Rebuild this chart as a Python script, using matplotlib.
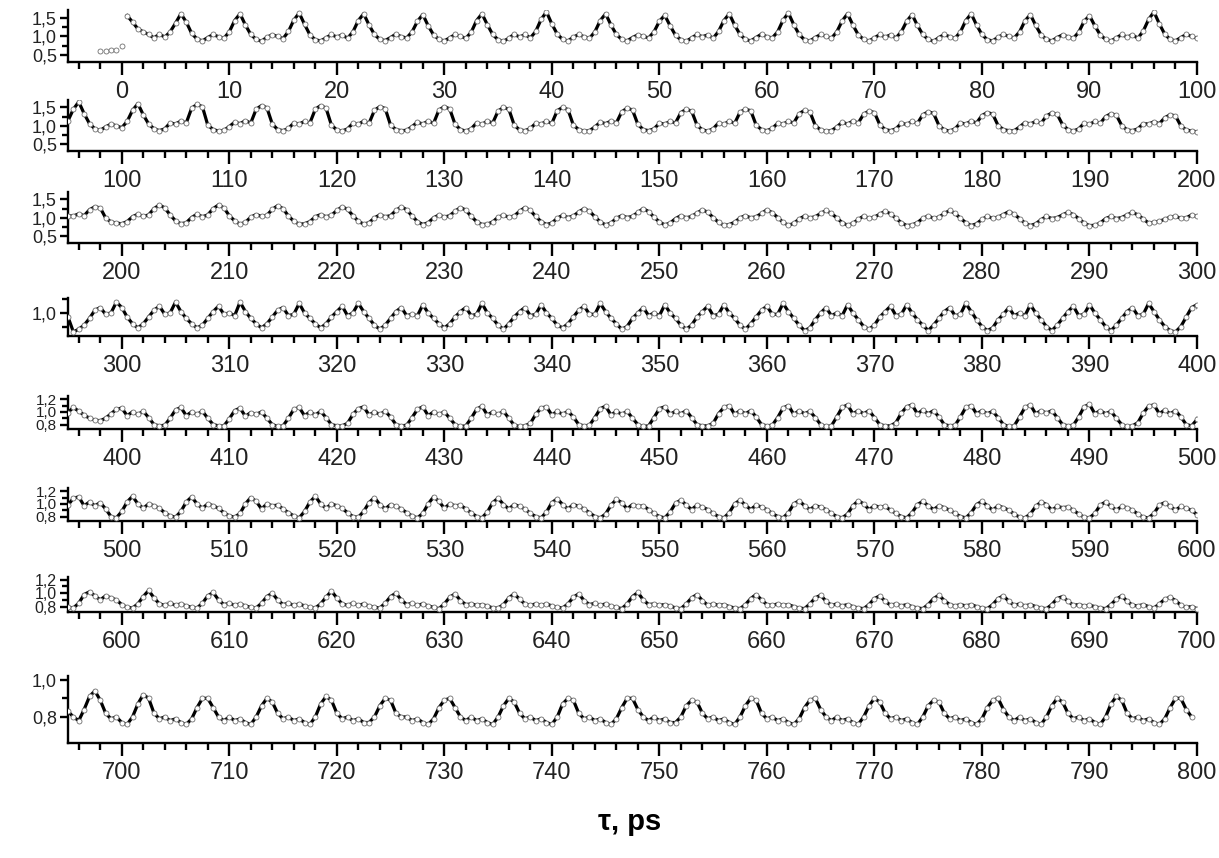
import numpy as np
import matplotlib
matplotlib.use("Agg")
import matplotlib.pyplot as plt
from matplotlib.ticker import MultipleLocator, FixedLocator, FuncFormatter

plt.rcParams['font.family'] = ['Liberation Sans', 'DejaVu Sans']

# ---------------- data (sampled every 0.5 ps) ----------------
dt = 0.5
t_pre = [-2.0, -1.5, -1.0, -0.5]
y_pre = [0.62, 0.62, 0.63, 0.65]

# 0 ... 99.5 ps
y_000 = [0.75, 1.55, 1.38, 1.20, 1.12, 1.05, 0.96, 1.06, 0.98, 1.12, 1.35, 1.60, 1.38, 1.08, 0.93,
         0.88, 0.97, 1.05, 0.99, 0.95, 1.12, 1.42, 1.60, 1.30, 1.05, 0.92,
         0.87, 0.98, 1.04, 1.00, 0.94, 1.13, 1.43, 1.62, 1.32, 1.04, 0.91,
         0.88, 0.96, 1.05, 0.98, 1.04, 0.95, 1.12, 1.42, 1.60, 1.30, 1.05, 0.92,
         0.89, 0.97, 1.06, 0.99, 0.96, 1.12, 1.40, 1.58, 1.28, 1.04, 0.92,
         0.88, 0.96, 1.05, 1.00, 0.95, 1.11, 1.42, 1.60, 1.31, 1.05, 0.91,
         0.87, 0.95, 1.06, 0.98, 1.05, 0.96, 1.13, 1.45, 1.65, 1.33, 1.06, 0.92,
         0.88, 0.98, 1.05, 0.99, 0.95, 1.12, 1.42, 1.60, 1.30, 1.05, 0.92,
         0.88, 0.97, 1.04, 1.00, 0.96, 1.12, 1.40, 1.56, 1.28, 1.03, 0.91,
         0.87, 0.96, 1.05, 0.99, 1.04, 0.95, 1.13, 1.42, 1.60, 1.30, 1.05, 0.92,
         0.88, 0.97, 1.06, 0.99, 0.96, 1.12, 1.43, 1.62, 1.31, 1.05, 0.91,
         0.88, 0.97, 1.05, 1.00, 0.95, 1.12, 1.41, 1.60, 1.30, 1.04, 0.92,
         0.88, 0.96, 1.05, 0.98, 1.04, 0.96, 1.12, 1.40, 1.58, 1.29, 1.05, 0.92,
         0.87, 0.97, 1.05, 0.99, 0.95, 1.12, 1.42, 1.60, 1.30, 1.05, 0.91,
         0.88, 0.98, 1.05, 1.00, 0.96, 1.12, 1.41, 1.58, 1.29, 1.04, 0.92,
         0.88, 0.97, 1.04, 0.99, 0.95, 1.11, 1.40, 1.55, 1.28, 1.04, 0.92,
         0.88, 0.96, 1.05, 0.98, 1.04, 0.95, 1.14, 1.45, 1.65, 1.33, 1.06, 0.92,
         0.88, 0.97, 1.05, 1.00]

# 100 ... 199.5 ps
y_100 = [0.95, 1.12, 1.42, 1.60, 1.30, 1.05, 0.92,
         0.87, 0.92, 1.08, 1.05, 1.13, 1.08, 1.48, 1.58, 1.52, 1.02, 0.90,
         0.86, 0.88, 0.98, 1.10, 1.06, 1.14, 1.08, 1.45, 1.55, 1.49, 1.05, 0.90,
         0.87, 0.93, 1.08, 1.05, 1.12, 1.08, 1.45, 1.55, 1.48, 1.02, 0.89,
         0.86, 0.92, 1.07, 1.04, 1.13, 1.07, 1.42, 1.52, 1.47, 1.02, 0.90,
         0.87, 0.88, 0.98, 1.10, 1.05, 1.13, 1.07, 1.43, 1.52, 1.46, 1.04, 0.90,
         0.86, 0.92, 1.08, 1.04, 1.13, 1.08, 1.40, 1.50, 1.45, 1.02, 0.89,
         0.87, 0.93, 1.07, 1.05, 1.12, 1.07, 1.41, 1.50, 1.44, 1.02, 0.90,
         0.86, 0.87, 0.97, 1.10, 1.06, 1.13, 1.08, 1.38, 1.48, 1.43, 1.04, 0.90,
         0.87, 0.92, 1.07, 1.05, 1.12, 1.08, 1.36, 1.45, 1.40, 1.02, 0.89,
         0.86, 0.92, 1.08, 1.04, 1.13, 1.07, 1.37, 1.45, 1.41, 1.02, 0.90,
         0.87, 0.93, 1.07, 1.05, 1.12, 1.08, 1.33, 1.42, 1.38, 1.01, 0.89,
         0.86, 0.87, 0.97, 1.10, 1.05, 1.13, 1.08, 1.32, 1.40, 1.36, 1.03, 0.90,
         0.87, 0.92, 1.07, 1.04, 1.12, 1.07, 1.30, 1.38, 1.34, 1.01, 0.89,
         0.86, 0.92, 1.08, 1.05, 1.13, 1.08, 1.28, 1.36, 1.32, 1.01, 0.90,
         0.87, 0.87, 0.97, 1.09, 1.05, 1.12, 1.07, 1.27, 1.35, 1.31, 1.03, 0.90,
         0.86, 0.92, 1.07, 1.04, 1.12, 1.07, 1.25, 1.33, 1.29, 1.01, 0.89,
         0.87, 0.92, 1.06, 1.05, 1.11, 1.06, 1.22, 1.30, 1.27, 1.00, 0.89,
         0.86]

# 200 ... 299.5 ps
y_200 = [0.84, 0.90, 1.03, 1.10, 1.04, 1.08, 1.25, 1.35, 1.27, 1.08, 0.92,
         0.84, 0.87, 1.01, 1.10, 1.03, 1.08, 1.25, 1.35, 1.27, 1.06, 0.92,
         0.83, 0.88, 1.02, 1.09, 1.04, 1.07, 1.23, 1.33, 1.25, 1.05, 0.91,
         0.83, 0.84, 0.90, 1.03, 1.09, 1.03, 1.07, 1.20, 1.30, 1.23, 1.06, 0.91,
         0.83, 0.87, 1.00, 1.08, 1.03, 1.06, 1.20, 1.30, 1.22, 1.05, 0.90,
         0.82, 0.87, 1.00, 1.08, 1.02, 1.06, 1.18, 1.28, 1.21, 1.04, 0.90,
         0.82, 0.83, 0.89, 1.02, 1.07, 1.02, 1.05, 1.18, 1.28, 1.20, 1.04, 0.90,
         0.82, 0.86, 0.99, 1.07, 1.01, 1.05, 1.16, 1.25, 1.18, 1.03, 0.89,
         0.81, 0.86, 0.99, 1.06, 1.01, 1.04, 1.15, 1.25, 1.17, 1.02, 0.89,
         0.81, 0.86, 0.98, 1.06, 1.00, 1.04, 1.13, 1.22, 1.15, 1.01, 0.88,
         0.80, 0.82, 0.88, 1.00, 1.06, 1.00, 1.03, 1.12, 1.22, 1.14, 1.01, 0.88,
         0.80, 0.85, 0.97, 1.05, 1.00, 1.03, 1.12, 1.20, 1.12, 1.00, 0.87,
         0.80, 0.85, 0.96, 1.05, 0.99, 1.02, 1.10, 1.18, 1.11, 0.99, 0.87,
         0.79, 0.81, 0.87, 0.99, 1.05, 0.99, 1.02, 1.12, 1.20, 1.12, 0.99, 0.87,
         0.79, 0.84, 0.96, 1.04, 0.99, 1.02, 1.09, 1.17, 1.10, 0.98, 0.86,
         0.79, 0.84, 0.95, 1.04, 0.98, 1.01, 1.08, 1.15, 1.09, 0.98, 0.86,
         0.79, 0.80, 0.86, 0.98, 1.04, 0.98, 1.01, 1.08, 1.15, 1.08, 0.97, 0.86,
         0.88, 0.91, 0.96, 1.02, 1.04, 0.99, 1.00, 1.08]

# 300 ... 399.5 ps
y_300 = [1.04, 0.97, 0.92,
         0.89, 0.92, 0.97, 1.02, 1.05, 0.99, 1.00, 1.08, 1.01, 0.96, 0.92,
         0.89, 0.91, 0.96, 1.01, 1.05, 0.99, 1.00, 0.98, 1.08, 1.01, 0.96, 0.92,
         0.89, 0.92, 0.97, 1.02, 1.04, 0.98, 0.99, 1.07, 1.00, 0.96, 0.92,
         0.89, 0.92, 0.97, 1.01, 1.05, 0.98, 1.00, 1.07, 1.01, 0.96, 0.91,
         0.88, 0.91, 0.96, 1.01, 1.04, 0.98, 0.99, 0.98, 1.06, 1.00, 0.96, 0.92,
         0.89, 0.92, 0.97, 1.01, 1.04, 0.98, 0.99, 1.07, 1.00, 0.96, 0.91,
         0.88, 0.92, 0.97, 1.01, 1.04, 0.98, 0.99, 1.06, 1.00, 0.96, 0.91,
         0.89, 0.92, 0.97, 1.02, 1.05, 0.99, 0.99, 1.07, 1.01, 0.96, 0.92,
         0.88, 0.90, 0.96, 1.00, 1.04, 0.98, 1.00, 0.98, 1.06, 1.00, 0.96, 0.91,
         0.88, 0.91, 0.97, 1.01, 1.05, 0.98, 0.99, 1.06, 1.00, 0.96, 0.91,
         0.88, 0.92, 0.97, 1.02, 1.05, 0.99, 0.99, 1.07, 1.01, 0.96, 0.91,
         0.87, 0.89, 0.95, 1.00, 1.04, 0.98, 1.00, 0.98, 1.06, 1.00, 0.95, 0.90,
         0.88, 0.91, 0.97, 1.01, 1.05, 0.98, 0.99, 1.06, 1.00, 0.95, 0.91,
         0.87, 0.91, 0.96, 1.01, 1.04, 0.98, 0.99, 1.07, 1.01, 0.95, 0.90,
         0.87, 0.89, 0.95, 0.99, 1.04, 0.98, 1.00, 0.98, 1.06, 1.00, 0.95, 0.90,
         0.87, 0.91, 0.96, 1.01, 1.05, 0.98, 0.99, 1.06, 1.00, 0.95, 0.90,
         0.87, 0.91, 0.96, 1.01, 1.04, 0.98, 0.99, 1.07, 1.01, 0.95, 0.90,
         0.87, 0.86, 0.90, 0.97, 1.04]

# 400 ... 499.5 ps
y_400 = [1.06, 0.94, 1.00, 0.96, 1.01, 0.91, 0.80,
         0.78, 0.79, 0.90, 1.03, 1.07, 0.94, 1.00, 0.96, 1.01, 0.90, 0.80,
         0.78, 0.78, 0.89, 1.02, 1.06, 0.93, 0.99, 0.96, 1.00, 0.90, 0.80,
         0.77, 0.78, 0.90, 1.04, 1.07, 0.94, 1.00, 0.95, 1.01, 0.91, 0.80,
         0.78, 0.78, 0.82, 0.96, 1.05, 1.08, 0.95, 1.00, 0.96, 1.01, 0.92, 0.80,
         0.78, 0.79, 0.91, 1.04, 1.08, 0.94, 1.00, 0.96, 1.00, 0.90, 0.80,
         0.77, 0.78, 0.90, 1.04, 1.09, 0.95, 1.00, 0.96, 1.01, 0.90, 0.79,
         0.77, 0.78, 0.82, 0.96, 1.06, 1.08, 0.95, 1.01, 0.96, 1.01, 0.92, 0.80,
         0.78, 0.79, 0.91, 1.05, 1.09, 0.95, 1.01, 0.96, 1.01, 0.90, 0.80,
         0.77, 0.78, 0.91, 1.05, 1.08, 0.96, 1.01, 0.97, 1.02, 0.91, 0.80,
         0.78, 0.78, 0.82, 0.97, 1.07, 1.10, 0.96, 1.02, 0.97, 1.02, 0.92, 0.80,
         0.78, 0.79, 0.91, 1.06, 1.10, 0.96, 1.02, 0.97, 1.01, 0.91, 0.80,
         0.77, 0.78, 0.92, 1.07, 1.11, 0.97, 1.02, 0.97, 1.02, 0.91, 0.80,
         0.78, 0.78, 0.83, 0.98, 1.08, 1.11, 0.97, 1.03, 0.97, 1.02, 0.92, 0.80,
         0.78, 0.79, 0.92, 1.07, 1.10, 0.97, 1.02, 0.97, 1.01, 0.91, 0.80,
         0.77, 0.78, 0.92, 1.07, 1.11, 0.97, 1.02, 0.98, 1.02, 0.91, 0.80,
         0.78, 0.79, 0.92, 1.08, 1.12, 0.97, 1.02, 0.97, 1.01, 0.90, 0.80,
         0.77, 0.78, 0.83, 0.98, 1.09, 1.11, 0.97, 1.03, 0.97, 1.02, 0.92, 0.80,
         0.78]

# 500 ... 599.5 ps
y_500 = [0.88, 1.03, 1.12, 1.00, 0.93, 1.00, 0.97, 0.93, 0.86, 0.81,
         0.79, 0.88, 1.03, 1.11, 1.00, 0.93, 1.00, 0.97, 0.93, 0.86, 0.81,
         0.79, 0.85, 1.00, 1.10, 1.04, 0.92, 1.00, 0.97, 0.98, 0.92, 0.86, 0.81,
         0.78, 0.88, 1.03, 1.12, 1.00, 0.93, 1.00, 0.97, 0.93, 0.86, 0.80,
         0.79, 0.88, 1.02, 1.10, 0.99, 0.92, 0.99, 0.96, 0.92, 0.86, 0.81,
         0.78, 0.85, 1.00, 1.11, 1.04, 0.93, 1.00, 0.97, 0.98, 0.92, 0.86, 0.80,
         0.78, 0.87, 1.02, 1.09, 0.99, 0.92, 0.99, 0.96, 0.92, 0.85, 0.80,
         0.78, 0.87, 1.02, 1.08, 0.99, 0.92, 0.99, 0.96, 0.92, 0.86, 0.80,
         0.78, 0.84, 0.98, 1.07, 1.02, 0.92, 0.99, 0.96, 0.97, 0.91, 0.85, 0.80,
         0.78, 0.87, 1.01, 1.06, 0.98, 0.91, 0.98, 0.95, 0.91, 0.85, 0.80,
         0.78, 0.86, 1.00, 1.06, 0.98, 0.91, 0.98, 0.95, 0.91, 0.85, 0.80,
         0.78, 0.86, 1.00, 1.05, 0.97, 0.91, 0.97, 0.95, 0.91, 0.85, 0.80,
         0.78, 0.84, 0.97, 1.05, 1.00, 0.91, 0.97, 0.95, 0.96, 0.90, 0.85, 0.80,
         0.78, 0.86, 0.99, 1.04, 0.97, 0.91, 0.97, 0.94, 0.90, 0.85, 0.80,
         0.78, 0.86, 0.99, 1.04, 0.97, 0.90, 0.97, 0.94, 0.90, 0.84, 0.79,
         0.78, 0.84, 0.96, 1.03, 0.99, 0.90, 0.96, 0.94, 0.95, 0.90, 0.84, 0.79,
         0.78, 0.85, 0.98, 1.03, 0.96, 0.90, 0.96, 0.94, 0.90, 0.84, 0.79,
         0.78, 0.85, 0.98, 1.02, 0.96, 0.90, 0.96, 0.93, 0.90]

# 600 ... 699.5 ps
y_600 = [0.83, 0.79,
         0.78, 0.84, 0.95, 1.04, 0.93, 0.84, 0.82, 0.85, 0.82, 0.84, 0.81, 0.79,
         0.78, 0.85, 0.96, 1.01, 0.90, 0.83, 0.85, 0.82, 0.84, 0.81, 0.79,
         0.78, 0.85, 0.95, 1.00, 0.90, 0.83, 0.85, 0.82, 0.84, 0.81, 0.79,
         0.78, 0.84, 0.94, 1.03, 0.93, 0.84, 0.82, 0.85, 0.82, 0.84, 0.81, 0.79,
         0.78, 0.85, 0.95, 1.00, 0.90, 0.83, 0.85, 0.82, 0.84, 0.81, 0.79,
         0.77, 0.84, 0.94, 0.99, 0.89, 0.83, 0.84, 0.82, 0.83, 0.81, 0.78,
         0.78, 0.83, 0.93, 0.99, 0.91, 0.84, 0.82, 0.84, 0.82, 0.84, 0.81, 0.79,
         0.78, 0.84, 0.94, 0.99, 0.89, 0.83, 0.85, 0.82, 0.84, 0.81, 0.79,
         0.77, 0.84, 0.95, 1.01, 0.90, 0.83, 0.84, 0.82, 0.83, 0.81, 0.78,
         0.77, 0.84, 0.93, 0.98, 0.89, 0.82, 0.84, 0.82, 0.83, 0.80, 0.78,
         0.77, 0.83, 0.92, 0.98, 0.90, 0.83, 0.82, 0.84, 0.82, 0.83, 0.80, 0.78,
         0.77, 0.84, 0.93, 0.97, 0.88, 0.82, 0.84, 0.81, 0.83, 0.80, 0.78,
         0.77, 0.83, 0.92, 0.96, 0.88, 0.82, 0.84, 0.81, 0.83, 0.80, 0.78,
         0.77, 0.83, 0.92, 0.97, 0.89, 0.83, 0.81, 0.83, 0.81, 0.83, 0.80, 0.78,
         0.77, 0.83, 0.92, 0.96, 0.88, 0.82, 0.84, 0.81, 0.83, 0.80, 0.78,
         0.77, 0.83, 0.92, 0.95, 0.88, 0.82, 0.83, 0.81, 0.82, 0.80, 0.78,
         0.77, 0.83, 0.91, 0.96, 0.88, 0.82, 0.81, 0.83, 0.80,
         0.78, 0.84, 0.91, 0.94, 0.89, 0.82, 0.79, 0.80]

# 700 ... 799.5 ps
y_700 = [0.77, 0.76, 0.80, 0.87, 0.92, 0.90, 0.82, 0.79, 0.80, 0.78, 0.79, 0.77,
         0.76, 0.79, 0.85, 0.90, 0.90, 0.85, 0.80, 0.78, 0.80, 0.78, 0.79, 0.77,
         0.76, 0.80, 0.86, 0.90, 0.88, 0.82, 0.79, 0.80, 0.78, 0.79, 0.77,
         0.76, 0.80, 0.87, 0.91, 0.89, 0.82, 0.79, 0.80, 0.78, 0.79, 0.77,
         0.77, 0.80, 0.86, 0.90, 0.89, 0.82, 0.80, 0.80, 0.78, 0.79, 0.77,
         0.76, 0.79, 0.85, 0.89, 0.90, 0.85, 0.80, 0.78, 0.80, 0.78, 0.79, 0.77,
         0.76, 0.80, 0.86, 0.90, 0.88, 0.82, 0.79, 0.80, 0.78, 0.79, 0.77,
         0.76, 0.80, 0.87, 0.90, 0.89, 0.82, 0.79, 0.80, 0.78, 0.79, 0.77,
         0.76, 0.79, 0.85, 0.90, 0.90, 0.84, 0.80, 0.78, 0.80, 0.78, 0.79, 0.77,
         0.77, 0.80, 0.86, 0.89, 0.88, 0.82, 0.79, 0.80, 0.78, 0.79, 0.77,
         0.76, 0.80, 0.86, 0.90, 0.89, 0.82, 0.79, 0.80, 0.78, 0.79, 0.77,
         0.76, 0.79, 0.85, 0.89, 0.90, 0.84, 0.80, 0.78, 0.80, 0.78, 0.79, 0.77,
         0.76, 0.80, 0.86, 0.90, 0.88, 0.82, 0.79, 0.80, 0.78, 0.79, 0.77,
         0.76, 0.80, 0.86, 0.89, 0.88, 0.82, 0.79, 0.80, 0.78, 0.79, 0.77,
         0.76, 0.79, 0.85, 0.89, 0.90, 0.84, 0.80, 0.78, 0.80, 0.78, 0.79, 0.77,
         0.76, 0.80, 0.86, 0.90, 0.88, 0.82, 0.79, 0.80, 0.78, 0.79, 0.77,
         0.76, 0.80, 0.87, 0.91, 0.89, 0.82, 0.79, 0.80, 0.78, 0.79, 0.77,
         0.76, 0.79, 0.85, 0.90, 0.90, 0.84, 0.80]

chunks = [y_000, y_100, y_200, y_300, y_400, y_500, y_600, y_700]
panel_starts = [0, 100, 200, 300, 400, 500, 600, 700]

# per-panel axis settings
y_lims = [(0.32, 1.70), (0.32, 1.70), (0.32, 1.70), (0.83, 1.11),
          (0.73, 1.25), (0.73, 1.25), (0.72, 1.24), (0.66, 1.02)]
y_major = [[0.5, 1.0, 1.5], [0.5, 1.0, 1.5], [0.5, 1.0, 1.5], [1.0],
           [0.8, 1.0, 1.2], [0.8, 1.0, 1.2], [0.8, 1.0, 1.2], [0.8, 1.0]]
y_minor = [[0.75, 1.25], [0.75, 1.25], [0.75, 1.25], [0.9, 1.1],
           [0.9, 1.1], [0.9, 1.1], [0.9, 1.1], [0.9]]
y_label_size = [13, 13, 13, 13, 11, 11, 11.5, 13]
# axes vertical extents in pixels from top (top, bottom)
panel_px = [(10, 62), (100, 151), (192, 243), (298, 336),
            (396, 429), (488, 521), (577, 612), (676, 743)]

# ---------------- assemble ----------------
y_all = np.concatenate([np.array(c, dtype=float) for c in chunks])
t_all = np.arange(len(y_all)) * dt
t_full = np.concatenate([np.array(t_pre), t_all])
y_full = np.concatenate([np.array(y_pre), y_all])
line_mask = t_full >= 0.5

W, H = 1219, 858
fig = plt.figure(figsize=(W / 100, H / 100), dpi=100)
fig.patch.set_facecolor('white')

left_px, right_px = 68, 1197
comma = FuncFormatter(lambda v, p: f"{v:.1f}".replace('.', ','))

for k, s in enumerate(panel_starts):
    top, bot = panel_px[k]
    ax = fig.add_axes([left_px / W, 1 - bot / H, (right_px - left_px) / W, (bot - top) / H])
    ax.plot(t_full[line_mask], y_full[line_mask], color='black', lw=2.3, zorder=2,
            solid_joinstyle='round')
    ax.plot(t_full, y_full, ls='none', marker='o', ms=3.6, mfc='white', mec='#707070',
            mew=0.6, zorder=3)
    ax.set_xlim(s - 5, s + 100)
    ax.set_ylim(*y_lims[k])
    for side in ('top', 'right'):
        ax.spines[side].set_visible(False)
    for side in ('left', 'bottom'):
        ax.spines[side].set_linewidth(1.7)
    ax.xaxis.set_major_locator(FixedLocator(np.arange(s, s + 101, 10)))
    ax.xaxis.set_minor_locator(MultipleLocator(2))
    ax.yaxis.set_major_locator(FixedLocator(y_major[k]))
    ax.yaxis.set_minor_locator(FixedLocator(y_minor[k]))
    ax.yaxis.set_major_formatter(comma)
    ax.tick_params(axis='x', which='major', direction='out', length=9, width=1.7,
                   labelsize=17, pad=5, colors='black', labelcolor='#222222')
    ax.tick_params(axis='x', which='minor', direction='out', length=5, width=1.7)
    ax.tick_params(axis='y', which='major', direction='out', length=6, width=1.7,
                   labelsize=y_label_size[k], pad=2, labelcolor='#222222')
    ax.tick_params(axis='y', which='minor', direction='out', length=4, width=1.7)
    ax.patch.set_alpha(0)

fig.text(630 / W, 1 - 822 / H, 'τ, ps', ha='center', va='center', fontsize=21,
         fontweight='bold')

fig.savefig('out.png', dpi=100, facecolor='white')
